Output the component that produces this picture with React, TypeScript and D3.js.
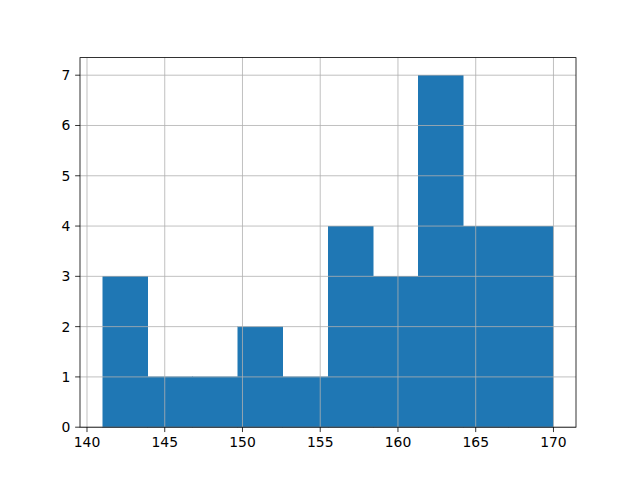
import React from "react";
import * as d3 from "d3";

const binEdges = [141, 143.9, 146.8, 149.7, 152.6, 155.5, 158.4, 161.3, 164.2, 167.1, 170];
const counts = [3, 1, 1, 2, 1, 4, 3, 7, 4, 4];
const xTicks = [140, 145, 150, 155, 160, 165, 170];
const yTicks = [0, 1, 2, 3, 4, 5, 6, 7];

const W = 640, H = 480;
const L = 80, R = 576, T = 57.6, B = 427.2;

export default function App() {
  const span = binEdges[binEdges.length - 1] - binEdges[0];
  const x = d3.scaleLinear()
    .domain([binEdges[0] - 0.05 * span, binEdges[binEdges.length - 1] + 0.05 * span])
    .range([L, R]);
  const ymax = d3.max(counts)!;
  const y = d3.scaleLinear().domain([0, ymax * 1.05]).range([B, T]);
  const font = "'DejaVu Sans', sans-serif";
  const fs = 13.9;
  return (
    <svg width={W} height={H} style={{ position: "absolute", left: 0, top: 0, background: "#fff" }}>
      <rect x={0} y={0} width={W} height={H} fill="#fff" />
      <g shapeRendering="crispEdges">
        {counts.map((c, i) => (
          <rect key={i} x={x(binEdges[i])} y={y(c)} width={x(binEdges[i + 1]) - x(binEdges[i])}
            height={y(0) - y(c)} fill="#1f77b4" stroke="#1f77b4" strokeWidth={0.5} />
        ))}
      </g>
      <g stroke="#b0b0b0" strokeWidth={0.8}>
        {xTicks.map(t => <line key={"gx" + t} x1={x(t)} x2={x(t)} y1={T} y2={B} />)}
        {yTicks.map(t => <line key={"gy" + t} x1={L} x2={R} y1={y(t)} y2={y(t)} />)}
      </g>
      <rect x={L} y={T} width={R - L} height={B - T} fill="none" stroke="#000" strokeWidth={0.8} />
      <g stroke="#000" strokeWidth={0.8}>
        {xTicks.map(t => <line key={"tx" + t} x1={x(t)} x2={x(t)} y1={B} y2={B + 4.86} />)}
        {yTicks.map(t => <line key={"ty" + t} x1={L} x2={L - 4.86} y1={y(t)} y2={y(t)} />)}
      </g>
      <g fontFamily={font} fontSize={fs} fill="#000">
        {xTicks.map(t => (
          <text key={"lx" + t} x={x(t)} y={B + 4.86 + 4.86} textAnchor="middle" dominantBaseline="hanging">{t}</text>
        ))}
        {yTicks.map(t => (
          <text key={"ly" + t} x={L - 4.86 - 4.86} y={y(t)} textAnchor="end" dominantBaseline="central">{t}</text>
        ))}
      </g>
    </svg>
  );
}
